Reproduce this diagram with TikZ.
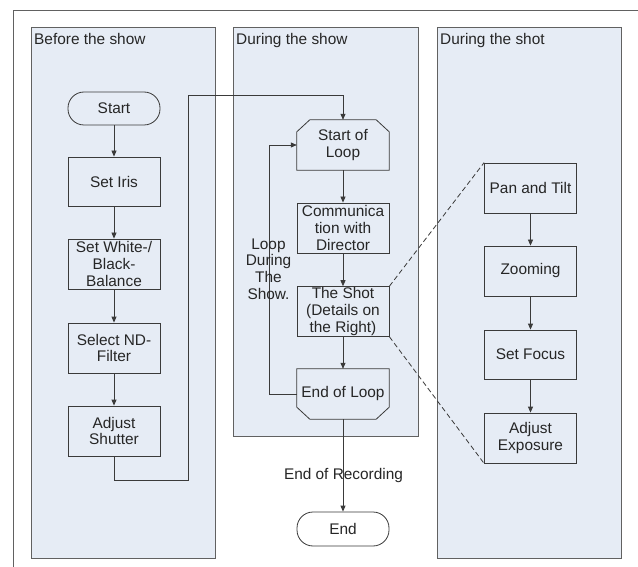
\documentclass[tikz,border=0pt]{standalone}
\usepackage{fontspec}
\setmainfont{Liberation Sans}
\usetikzlibrary{arrows.meta,calc}
\definecolor{lanefill}{HTML}{E6ECF5}
\definecolor{linec}{HTML}{3A3A3A}
\begin{document}
\begin{tikzpicture}[x=1pt,y=-1pt,
  every node/.style={font=\fontsize{15.4}{16.7}\selectfont, text=black!85},
  lane/.style={draw=linec!80, fill=lanefill, line width=0.8pt},
  procbox/.style={draw=linec, line width=0.8pt, minimum width=92pt, minimum height=50pt, align=center, inner sep=1pt},
  termbox/.style={draw=linec, line width=0.8pt, rounded corners=16pt, minimum width=92pt, minimum height=33pt, align=center},
  ghost/.style={draw=none, minimum width=92pt, minimum height=50pt, align=center, inner sep=1pt},
  conn/.style={draw=linec, line width=0.8pt, -{Triangle[length=6pt,width=5pt]}},
  plain/.style={draw=linec, line width=0.8pt},
  dashconn/.style={draw=linec, line width=0.8pt, dash pattern=on 5pt off 3pt},
  lanelabel/.style={anchor=north west, inner sep=0pt}
]
\useasboundingbox (0,0) rectangle (638,567);
\fill[white] (0,0) rectangle (638,567);
\draw[draw=linec!80, line width=0.8pt] (638,10) -- (13,10) -- (13,567);

% lanes
\draw[lane] (31,27) rectangle (215,558);
\draw[lane] (233,27) rectangle (418,436);
\draw[lane] (437,27) rectangle (621,558);
\node[lanelabel] (l1) at (34,33) {Before the show};
\node[lanelabel] (l2) at (236,33) {During the show};
\node[lanelabel] (l3) at (440,33) {During the shot};

% lane 1
\node[termbox] (start) at (114,108.5) {Start};
\node[procbox, minimum height=49pt] (iris) at (114,181.5) {Set Iris};
\node[procbox] (wb) at (114,264) {Set White-/\\Black-\\Balance};
\node[procbox] (nd) at (114,348) {Select ND-\\Filter};
\node[procbox] (shut) at (114,431) {Adjust\\Shutter};

% lane 2
\node[ghost] (sl) at (343,145) {Start of\\Loop};
\draw[plain] (sl.south west) -- ($(sl.north west)+(0,12)$) -- ($(sl.north west)+(13,0)$)
  -- ($(sl.north east)+(-13,0)$) -- ($(sl.north east)+(0,12)$) -- (sl.south east) -- cycle;
\node[procbox] (comm) at (343,228) {Communica\\tion with\\Director};
\node[procbox, minimum height=49pt] (shot) at (343,311.5) {The Shot\\(Details on\\the Right)};
\node[ghost] (el) at (343,394) {End of Loop};
\draw[plain] (el.north west) -- ($(el.south west)+(0,-12)$) -- ($(el.south west)+(13,0)$)
  -- ($(el.south east)+(-13,0)$) -- ($(el.south east)+(0,-12)$) -- (el.north east) -- cycle;
\node[termbox, minimum height=34pt] (end) at (343,529) {End};

% lane 3
\node[procbox] (pan) at (530.5,188) {Pan and Tilt};
\node[procbox] (zoom) at (530.5,271) {Zooming};
\node[procbox, minimum height=49pt] (focus) at (530.5,354.5) {Set Focus};
\node[procbox] (expo) at (530.5,438) {Adjust\\Exposure};

% connectors lane 1
\draw[conn] (start) -- (iris);
\draw[conn] (iris) -- (wb);
\draw[conn] (wb) -- (nd);
\draw[conn] (nd) -- (shut);
\draw[conn] (shut.south) -- ++(0,24) -| (188,95) -| (sl.north);

% connectors lane 2
\draw[conn] (sl) -- (comm);
\draw[conn] (comm) -- (shot);
\draw[conn] (shot) -- (el);
\coordinate (loopx) at (269,0);
\draw[conn] (el.west) -| (loopx |- sl.west) -- (sl.west);
\node[align=center, inner sep=0pt] (looplbl) at (268.5,269) {Loop\\During\\The\\Show.};
\draw[conn] (el.south) -- (end.north);
\node[inner sep=0pt] (eor) at (343.5,476) {End of Recording};

% connectors lane 3
\draw[conn] (pan) -- (zoom);
\draw[conn] (zoom) -- (focus);
\draw[conn] (focus) -- (expo);

% dashed
\draw[dashconn] (shot.north east) -- (pan.north west);
\draw[dashconn] (shot.south east) -- (expo.south west);
\end{tikzpicture}
\end{document}
